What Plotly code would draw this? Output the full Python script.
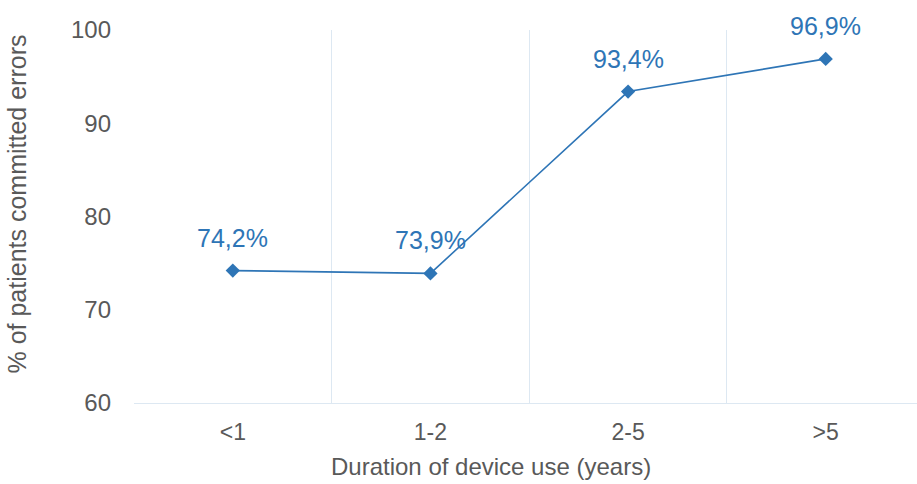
import plotly.graph_objects as go

categories = ["<1", "1-2", "2-5", ">5"]
values = [74.2, 73.9, 93.4, 96.9]
labels = ["74,2%", "73,9%", "93,4%", "96,9%"]
y_ticks = [60, 70, 80, 90, 100]
x_title = "Duration of device use (years)"
y_title = "% of patients committed errors"

BLUE = "#2e75b6"
GRAY = "#595959"
GRID = "#dde8f2"
FONT = "Liberation Sans, Arial, sans-serif"

x_idx = list(range(len(categories)))

fig = go.Figure()
fig.add_trace(go.Scatter(
    x=x_idx, y=values, mode="lines+markers",
    line=dict(color=BLUE, width=1.6),
    marker=dict(symbol="diamond", size=11, color=BLUE),
    hoverinfo="skip", showlegend=False,
))
for xi, v, t in zip(x_idx, values, labels):
    fig.add_annotation(x=xi, y=v, text=t, showarrow=False, yshift=33,
                       font=dict(family=FONT, size=25, color=BLUE))

# axis titles (placed as in the reference, slightly off-centre)
fig.add_annotation(xref="paper", yref="paper", x=0.456, y=-0.169, text=x_title,
                   showarrow=False, xanchor="center", yanchor="middle",
                   font=dict(family=FONT, size=24, color=GRAY))
fig.add_annotation(xref="paper", yref="paper", x=-0.149, y=0.533, text=y_title,
                   textangle=-90, showarrow=False, xanchor="center", yanchor="middle",
                   font=dict(family=FONT, size=25, color=GRAY))

boundaries = [i - 0.5 for i in range(len(categories))]

fig.update_layout(
    width=917, height=484,
    margin=dict(l=134, r=0, t=30, b=81),
    paper_bgcolor="white", plot_bgcolor="white",
    font=dict(family=FONT, color=GRAY),
    xaxis=dict(
        range=[-0.5, 3.462], tickmode="array", tickvals=x_idx, ticktext=categories,
        showgrid=False, zeroline=False, showline=True, linecolor=GRID, linewidth=1,
        ticks="", tickfont=dict(size=23, color=GRAY), ticklabelstandoff=8,
        minor=dict(tickmode="array", tickvals=boundaries, showgrid=True,
                   gridcolor=GRID, gridwidth=1, ticks=""),
    ),
    yaxis=dict(
        range=[60, 100], tickmode="array", tickvals=y_ticks,
        showgrid=False, zeroline=False, showline=False,
        ticks="", tickfont=dict(size=24, color=GRAY), ticklabelstandoff=22,
    ),
)

fig.write_html("out.html")
